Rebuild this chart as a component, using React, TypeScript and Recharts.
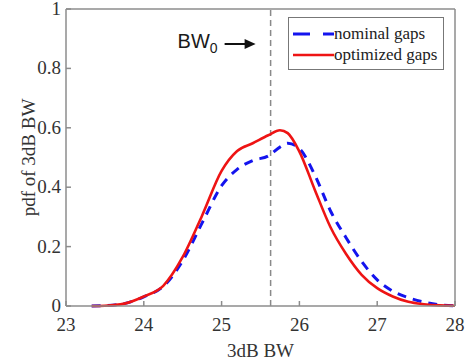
import React from 'react';
import { LineChart, Line, XAxis, YAxis, ReferenceLine } from 'recharts';

const bwValues = [23.33, 23.5, 23.75, 24.0, 24.25, 24.5, 24.75, 25.0, 25.2, 25.4, 25.6, 25.75, 25.85, 26.0, 26.2, 26.4, 26.6, 26.8, 27.0, 27.2, 27.4, 27.6, 27.8, 28.0];
const nominalGaps = [0, 0.001, 0.008, 0.031, 0.066, 0.152, 0.28, 0.405, 0.46, 0.49, 0.505, 0.535, 0.548, 0.53, 0.44, 0.32, 0.23, 0.15, 0.088, 0.05, 0.028, 0.013, 0.004, 0.001];
const optimizedGaps = [0, 0.001, 0.008, 0.032, 0.068, 0.165, 0.305, 0.455, 0.522, 0.548, 0.575, 0.592, 0.582, 0.52, 0.39, 0.265, 0.175, 0.105, 0.06, 0.032, 0.014, 0.006, 0.002, 0.001];
const xTicks = [23, 24, 25, 26, 27, 28];
const yTicks = [0, 0.2, 0.4, 0.6, 0.8, 1];
const bw0 = 25.63;
const seriesNames = ['nominal gaps', 'optimized gaps'];
const xLabel = '3dB BW';
const yLabel = 'pdf of 3dB BW';

const data = bwValues.map((x, i) => ({ x, nominal: nominalGaps[i], optimized: optimizedGaps[i] }));

const W = 466;
const H = 360;
const frame = '#8c8c8c';
const serif = '"Liberation Serif", "Times New Roman", serif';
const BLUE = '#1414ee';
const RED = '#ee1414';
const tickTextStyle: React.CSSProperties = { fontFamily: serif, fontSize: 19, fill: '#333' };

const XTick = (props: any) => (
  <g>
    <text x={props.x} y={props.y} dy={14} textAnchor="middle" fontFamily={serif} fontSize={19} fill="#333" style={tickTextStyle}>
      {String(props.payload.value)}
    </text>
  </g>
);

const YTick = (props: any) => (
  <g>
    <text x={props.x} y={props.y} dy={6} textAnchor="end" fontFamily={serif} fontSize={19} fill="#333" style={tickTextStyle}>
      {String(props.payload.value)}
    </text>
  </g>
);

const Bw0Label = (props: any) => {
  const vb = props.viewBox || {};
  const x = vb.x;
  const y = vb.y;
  return (
    <g>
      <text x={x - 93} y={y + 39} fontFamily='"Liberation Sans", Arial, sans-serif' fontSize={20} fill="#1a1a1a">
        BW<tspan fontSize={14} dy={5}>0</tspan>
      </text>
      <line x1={x - 46} y1={y + 35} x2={x - 24} y2={y + 35} stroke="#111" strokeWidth={2} />
      <polygon points={`${x - 15},${y + 35} ${x - 26},${y + 30} ${x - 26},${y + 40}`} fill="#111" />
    </g>
  );
};

const XLabel = (props: any) => {
  const vb = props.viewBox || {};
  return (
    <text x={vb.x + vb.width / 2} y={vb.y + 51} textAnchor="middle" fontFamily={serif} fontSize={19} fill="#333">
      {xLabel}
    </text>
  );
};

const YLabel = (props: any) => {
  const vb = props.viewBox || {};
  const cx = vb.x + 2;
  const cy = vb.y + vb.height / 2;
  return (
    <text x={cx} y={cy} transform={`rotate(-90 ${cx} ${cy})`} textAnchor="middle" dominantBaseline="central" fontFamily={serif} fontSize={19} fill="#333">
      {yLabel}
    </text>
  );
};

export default function App() {
  return (
    <div style={{ position: 'absolute', left: 0, top: 0, width: W, height: H, background: '#fff' }}>
      <LineChart width={W} height={H} data={data} margin={{ top: 8, right: 10, bottom: 24, left: 26 }}>
        <XAxis
          dataKey="x"
          type="number"
          domain={[23, 28]}
          ticks={xTicks}
          height={30}
          tickSize={-5}
          tickMargin={16}
          stroke={frame}
          strokeWidth={1.5}
          tick={(p: any) => <XTick {...p} />}
          label={{ content: <XLabel /> }}
        />
        <XAxis
          xAxisId="t"
          orientation="top"
          dataKey="x"
          type="number"
          domain={[23, 28]}
          ticks={xTicks}
          height={1}
          tickSize={-5}
          stroke={frame}
          strokeWidth={1.5}
          tick={false}
        />
        <YAxis
          type="number"
          domain={[0, 1]}
          ticks={yTicks}
          width={40}
          tickSize={-5}
          tickMargin={10}
          stroke={frame}
          strokeWidth={1.5}
          tick={(p: any) => <YTick {...p} />}
          label={{ content: <YLabel /> }}
        />
        <YAxis
          yAxisId="r"
          orientation="right"
          type="number"
          domain={[0, 1]}
          ticks={yTicks}
          width={1}
          tickSize={-5}
          stroke={frame}
          strokeWidth={1.5}
          tick={false}
        />
        <ReferenceLine x={bw0} stroke="#8a8a8a" strokeWidth={1.5} strokeDasharray="6 4" label={{ content: <Bw0Label /> }} />
        <Line
          type="monotone"
          dataKey="nominal"
          name={seriesNames[0]}
          stroke={BLUE}
          strokeWidth={3}
          strokeDasharray="9 7"
          dot={false}
          isAnimationActive={false}
        />
        <Line
          type="monotone"
          dataKey="optimized"
          name={seriesNames[1]}
          stroke={RED}
          strokeWidth={2.6}
          dot={false}
          isAnimationActive={false}
        />
      </LineChart>
      <div
        style={{
          position: 'absolute',
          left: 288,
          top: 17,
          width: 154,
          height: 51,
          border: '1px solid #777',
          background: '#fff',
          fontFamily: serif,
          fontSize: 17,
          color: '#222',
        }}
      >
        <div style={{ position: 'absolute', left: 4, top: 5, display: 'flex', alignItems: 'center', height: 22 }}>
          <svg width={41} height={6} style={{ display: 'block' }}>
            <line x1={0} y1={3} x2={41} y2={3} stroke={BLUE} strokeWidth={3} strokeDasharray="17 13" />
          </svg>
          <span style={{ marginLeft: 0, whiteSpace: 'nowrap' }}>{seriesNames[0]}</span>
        </div>
        <div style={{ position: 'absolute', left: 4, top: 26, display: 'flex', alignItems: 'center', height: 22 }}>
          <svg width={41} height={6} style={{ display: 'block' }}>
            <line x1={0} y1={3} x2={41} y2={3} stroke={RED} strokeWidth={2.6} />
          </svg>
          <span style={{ marginLeft: 0, whiteSpace: 'nowrap' }}>{seriesNames[1]}</span>
        </div>
      </div>
    </div>
  );
}
